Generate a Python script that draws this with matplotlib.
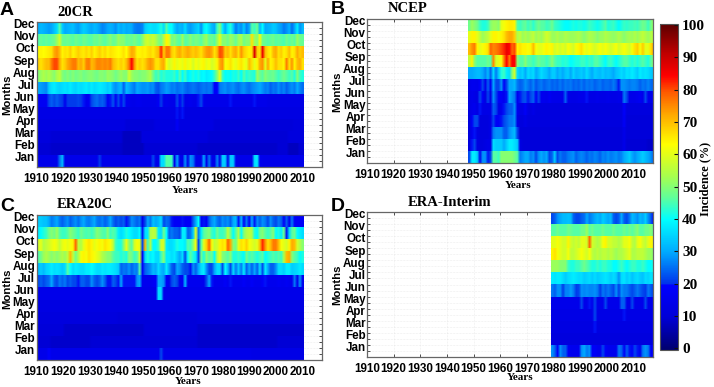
import numpy as np
import matplotlib
matplotlib.use("Agg")
import matplotlib.pyplot as plt
from matplotlib.colors import LinearSegmentedColormap, Normalize
from matplotlib.cm import ScalarMappable

MONTHS = ["Jan","Feb","Mar","Apr","May","Jun","Jul","Aug","Sep","Oct","Nov","Dec"]
XTICKS = list(range(1910, 2011, 10))

# ---------- 20CR, 1910-2009 ----------
A_Dec = [30,32,31,30,29,30,33,36,46,34, 30,31,32,33,30,29,32,34,33,31, 30,32,31,29,27,28,30,31,30,28,
         32,30,32,30,31,30,27,26,26,27, 34,36,37,36,36,38,42,36,46,40, 40,34,30,32,31,36,30,29,31,33,
         35,28,38,40,36,32,30,44,50,38, 30,38,42,34,26,30,28,34,27,30, 46,44,48,32,40,30,31,32,34,33,
         30,29,26,28,31,25,30,38,28,32]
A_Nov = [46,47,46,47,46,47,48,52,58,48, 47,48,47,46,48,47,46,48,47,46, 46,48,47,49,47,46,48,50,47,48,
         52,50,50,47,48,47,49,47,46,50, 56,58,55,57,54,50,48,55,64,60, 48,50,47,46,52,46,47,50,47,49,
         48,46,50,52,47,48,46,52,60,50, 50,48,52,50,47,52,54,48,50,50, 66,52,50,62,48,47,46,47,48,46,
         47,46,45,48,46,48,46,52,48,47]
A_Oct = [63,64,63,64,65,66,72,74,70,64, 66,65,68,64,66,68,66,65,67,65, 68,64,66,68,65,67,64,66,65,64,
         63,64,66,63,68,72,70,64,64,65, 64,66,67,65,68,70,82,68,76,76, 68,66,70,72,68,70,72,70,68,70,
         68,66,70,73,74,72,66,70,80,78, 68,70,66,70,72,66,74,68,66,64, 66,88,68,66,86,70,66,64,70,72,
         66,68,64,66,70,64,66,72,68,70]
A_Sep = [68,66,68,70,70,76,80,80,72,66, 68,72,74,76,76,70,72,68,75,76, 70,72,75,75,74,75,74,76,70,68,
         66,68,66,70,76,84,74,66,68,66, 68,72,74,72,66,66,70,72,62,58, 60,64,60,62,60,64,60,62,58,62,
         60,62,64,60,62,58,60,64,72,74, 62,64,66,62,60,64,66,62,60,70, 66,60,64,72,74,60,72,64,66,70,
         66,66,64,76,66,74,64,70,72,66]
A_Aug = [50,52,54,52,54,52,50,54,56,50, 48,50,48,50,48,49,50,48,49,50, 50,49,48,50,50,49,52,51,50,48,
         50,52,50,50,58,52,50,50,49,50, 50,52,54,48,44,46,42,44,42,42, 42,44,40,46,40,44,38,40,42,40,
         42,39,40,38,39,40,44,50,60,44, 40,41,40,42,41,44,40,46,42,44, 43,42,52,48,46,50,48,47,48,46,
         44,46,48,46,44,46,42,50,44,42]
A_Jul = [30,29,28,27,34,37,38,36,35,36, 37,36,38,36,35,37,36,37,38,36, 38,36,37,38,37,36,34,36,30,28,
         30,32,24,32,30,28,26,30,29,28, 28,29,27,28,24,23,26,27,29,28, 26,27,25,26,27,25,24,25,26,25,
         24,25,26,25,26,25,19,19,26,27, 28,26,27,28,26,25,27,28,26,25, 27,28,29,30,28,26,27,24,26,25,
         28,25,27,24,26,28,26,30,27,25]
A_Jun = [17,17,17,17,22,24,22,24,22,21, 16,21,21,21,21,22,21,20,16,17, 22,24,25,23,24,22,18,20,23,17,
         22,18,22,17,16,15,15,16,16,15, 15,15,15,15,15,17,21,15,16,15, 15,15,22,18,21,15,15,16,15,15,
         20,22,16,15,15,15,15,15,15,15, 15,15,20,15,15,15,15,15,15,15, 15,20,15,15,15,15,14,14,14,14,
         14,14,14,14,14,14,14,14,14,14]
A_May = [14]*52 + [20,14,20] + [13]*45
A_Apr = [13]*33 + [11]*6 + [11]*5 + [13]*8 + [18] + [13]*13 + [11]*30 + [12]*4
A_Mar = [12]*5 + [10]*27 + [8]*7 + [12]*15 + [12]*10 + [10]*30 + [12]*6
A_Feb = [10]*5 + [9]*27 + [8]*8 + [10]*20 + [9]*30 + [10,10,10,10,8,8,8,8,10,10]
A_Jan = [15,15,15,15,15,15,15,15,25,32, 15,15,15,15,15,15,15,15,15,15, 15,15,15,21,15,15,15,15,15,15,
         15,15,15,15,15,15,15,15,15,15, 15,15,15,22,15,15,36,36,46,46, 44,15,30,16,15,28,15,28,26,15,
         15,15,30,15,26,15,15,27,15,34, 34,16,34,34,16,15,15,15,15,15, 15,36,38,16,15,15,15,15,15,15,
         15,15,15,15,15,15,15,15,15,15]

# ---------- NCEP, 1948-2017 ----------
B_Dec = [48,52, 50,48,44,42,42,44,50,52,52,50, 60,62,64,65,65,64,46,44,46,47, 44,46,43,46,48,46,46,44,45,48,
         44,43,42,41,40,40,41,42,41,42, 42,41,42,44,43,42,41,42,44,46, 42,43,44,42,40,42,44,43,44,44,
         45,44,46,48,47,44,48,52]
B_Nov = [60,64, 64,60,56,52,54,56,60,64,64,62, 64,66,70,72,72,68,54,56,52,54, 52,54,56,52,54,52,55,58,56,52,
         52,54,52,52,54,53,52,52,53,54, 52,50,52,54,53,52,50,52,52,54, 53,52,51,52,54,52,50,52,53,52,
         54,52,54,56,54,52,54,56]
B_Oct = [70,74, 76,64,60,62,64,66,78,75,76,78, 80,82,86,84,78,80,64,66,64,64, 62,64,70,62,60,60,62,64,62,64,
         58,60,58,60,58,62,60,58,62,64, 66,62,60,62,60,58,60,62,60,62, 60,58,60,62,58,60,62,60,58,62,
         66,68,62,68,60,60,66,72]
B_Sep = [56,64, 50,46,46,46,46,48,46,75,58,60, 62,76,84,76,84,84,50,46,46,50, 46,46,44,46,48,46,46,44,46,50,
         46,44,44,42,43,42,40,41,42,42, 44,44,42,44,43,46,46,44,42,40, 43,44,42,40,42,44,46,46,44,42,
         44,42,44,46,44,42,46,50]
B_Aug = [30,30, 31,32,32,30,27,32,24,36,26,34, 42,44,38,36,50,58,36,33,35,30, 36,34,36,30,33,36,34,33,30,34,
         34,30,33,30,33,34,30,35,32,33, 34,32,36,33,30,34,33,32,34,32, 33,32,30,33,34,36,34,37,36,38,
         36,34,38,36,37,36,34,33]
B_Jul = [14,16, 16,15,18,22,15,24,17,30,22,22, 28,18,22,30,30,32,26,24,25,28, 26,24,27,23,25,26,24,25,26,24,
         25,24,26,24,26,25,26,24,25,24, 26,24,26,25,26,24,25,26,24,25, 25,24,26,24,20,28,28,27,26,27,
         27,26,24,26,25,27,25,24]
B_Jun = [13,15, 14,13,22,18,13,22,14,28,22,18, 18,16,20,30,28,26,16,20,22,23, 20,22,24,18,22,16,16,15,17,15,
         15,15,15,15,24,15,14,14,14,15, 15,15,20,14,14,14,15,14,14,14, 15,14,14,14,15,14,26,22,15,15,
         15,16,17,15,22,16,15,16]
B_May = [13,15, 16,13,20,14,14,14,14,24,22,14, 16,20,22,24,24,28,16,14,14,18, 13,12,14] + [12]*33 + [19] + [12]*11
B_Apr = [12,18, 22,22,12,12,12,12,14,22,18,18, 20,22,24,26,26,28,14,12,12,14] + [12]*36 + [18] + [11]*11
B_Mar = [12,16, 20,13,12,12,12,12,14,26,28,28, 28,24,24,28,30,32,22,11,11,11] + [11]*36 + [15] + [11]*11
B_Feb = [12,20, 22,13,12,12,13,14,14,36,34,34, 34,30,34,38,38,36,34,13,11,11] + [11]*36 + [15] + [10]*8 + [9,9,8]
B_Jan = [22,38, 38,34,16,28,28,20,22,46,46,44, 50,50,50,50,50,48,46,26,28,30,
         30,26,28,22,28,30,28,30,22,24, 34,22,26,24,24,26,27,28,24,26, 27,26,24,26,25,27,26,24,27,26,
         28,26,27,28,26,27,30,32,34,30, 28,30,32,34,32,30,28,24]

# ---------- ERA20C, 1910-2009 ----------
C_Dec = [34,34,33,33,30,26,28,30,26,24, 26,28,24,26,28,25,28,30,27,26, 28,30,26,25,27,24,26,30,25,22,
         24,22,24,20,22,28,26,24,26,16, 22,30,26,33,30,32,36,22,25,24, 20,18,18,18,20,18,18,18,24,30,
         40,18,20,18,24,28,30,26,24,28, 26,28,24,30,32,20,32,18,26,18, 30,20,28,24,28,26,22,28,24,22,
         26,24,18,24,16,26,18,18,18,18]
C_Nov = [38,40,42,44,48,50,48,52,46,44, 44,46,50,48,46,44,48,46,45,46, 44,46,50,48,46,45,50,44,46,44,
         38,36,38,42,40,38,36,36,40,20, 36,38,54,56,54,38,36,48,40,24, 26,24,24,22,38,38,24,26,34,60,
         26,38,46,48,50,44,42,48,44,44, 46,56,48,40,46,54,40,50,54,56, 54,42,40,48,50,46,44,46,50,40,
         42,38,48,20,36,46,48,40,38,36]
C_Oct = [58,60,54,56,58,60,62,60,56,60, 62,60,62,64,78,56,54,60,64,66, 64,60,62,64,62,66,64,62,56,44,
         42,42,50,60,50,46,58,62,60,22, 70,44,54,40,40,44,58,58,38,36, 36,38,42,40,40,38,46,44,50,62,
         22,46,60,68,78,62,56,58,64,66, 64,78,72,50,48,60,66,64,68,62, 60,58,60,70,82,74,66,70,76,76,
         70,62,60,58,64,72,70,58,54,50]
C_Sep = [46,48,52,54,52,50,52,50,52,54, 52,56,70,56,48,54,62,64,62,66, 64,62,60,58,54,52,50,50,46,44,
         44,42,44,42,50,48,44,46,58,18, 36,42,38,40,36,36,44,50,38,38, 36,38,34,30,36,22,40,46,42,38,
         22,48,42,50,46,48,40,54,60,50, 48,46,50,42,42,44,42,40,48,44, 46,44,42,44,46,40,42,44,46,44,
         46,44,54,70,72,50,46,44,40,42]
C_Aug = [32,34,32,35,36,38,36,37,36,34, 36,46,40,36,38,37,36,36,38,38, 40,38,36,36,38,37,38,38,37,36,
         34,24,26,25,28,24,27,26,46,19, 24,26,28,32,30,36,32,30,38,30, 24,22,30,28,24,22,22,20,28,24,
         30,36,38,28,22,22,30,36,36,22, 40,32,22,36,26,34,26,38,24,30, 24,30,24,36,22,38,30,24,24,28,
         36,36,34,38,38,34,35,36,38,36]
C_Jul = [22,24,22,24,25,30,24,22,26,24, 26,22,24,22,22,20,24,24,22,22, 28,24,22,24,28,24,20,20,24,22,
         20,30,20,20,20,20,20,28,30,16, 16,16,16,17,18,30,30,28,18,16, 22,24,22,16,17,32,16,16,16,16,
         16,16,16,22,30,20,16,16,16,16, 18,16,20,16,16,16,16,18,16,16, 18,16,16,16,18,20,16,16,16,16,
         17,16,16,17,16,16,26,16,28,16]
C_Jun = [15]*45 + [36,36] + [15]*53
C_May = [13]*100
C_Apr = [12]*30 + [11]*30 + [12]*40
C_Mar = [11]*10 + [9]*30 + [11]*20 + [9]*40
C_Feb = [10]*5 + [9]*15 + [10]*40 + [9]*30 + [10]*10
C_Jan = [15]*4 + [19] + [15]*41 + [22] + [15]*33 + [14]*20

# ---------- ERA-Interim, 1979-2017 ----------
D_Dec = [22,24,28,30,32,32,33,32,24,22, 22,24,25,30,26,28,30,32,30,34, 32,30,32,24,22,24,30,24,22,26, 32,30,28,32,30,34,28,24,18]
D_Nov = [46,46,48,46,46,46,48,47,46,46, 46,48,48,52,46,48,46,46,46,48, 46,46,46,48,46,46,46,48,46,48, 46,48,50,46,46,48,48,50,47]
D_Oct = [60,60,62,60,58,58,64,58,56,58, 56,60,60,58,78,58,56,54,56,62, 64,58,58,56,56,54,56,60,60,62, 56,54,60,62,58,56,60,64,62]
D_Sep = [64,66,62,60,58,58,62,56,56,58, 60,62,60,58,62,56,54,56,54,56, 56,54,56,54,52,54,54,56,58,60, 54,54,56,56,56,54,52,52,50]
D_Aug = [52,52,52,50,50,50,44,42,42,44, 44,46,48,46,44,42,42,44,42,44, 44,42,42,40,40,42,44,42,40,42, 44,44,42,42,44,42,40,40,42]
D_Jul = [38,37,38,38,36,34,36,37,38,37, 36,36,34,35,36,34,36,34,35,36, 37,36,34,36,34,28,36,37,34,36, 33,35,36,34,33,36,35,37,36]
D_Jun = [26,24,28,28,21,27,27,29,26,21, 22,28,27,28,27,27,28,26,21,26, 24,26,24,22,28,21,28,26,26,24, 22,24,26,24,22,21,26,24,21]
D_May = [15]*11 + [22] + [15]*2 + [20] + [15] + [22] + [15]*3 + [22] + [15]*5 + [24,24] + [15]*2 + [22] + [15]*4 + [22] + [15]*3
D_Apr = [14]*16 + [22] + [14]*10 + [20] + [14]*11
D_Mar = [13]*16 + [20] + [13]*22
D_Feb = [12]*39
D_Jan = [28,24,18,28,24,24,18,16,16,16, 16,28,30,26,28,18,18,16,16,22, 18,16,16,16,16,26,24,18,24,20, 18,22,20,16,26,28,26,18,18]

PANELS = [
    ("A", "20CR", 1910, [A_Jan,A_Feb,A_Mar,A_Apr,A_May,A_Jun,A_Jul,A_Aug,A_Sep,A_Oct,A_Nov,A_Dec]),
    ("B", "NCEP", 1948, [B_Jan,B_Feb,B_Mar,B_Apr,B_May,B_Jun,B_Jul,B_Aug,B_Sep,B_Oct,B_Nov,B_Dec]),
    ("C", "ERA20C", 1910, [C_Jan,C_Feb,C_Mar,C_Apr,C_May,C_Jun,C_Jul,C_Aug,C_Sep,C_Oct,C_Nov,C_Dec]),
    ("D", "ERA-Interim", 1979, [D_Jan,D_Feb,D_Mar,D_Apr,D_May,D_Jun,D_Jul,D_Aug,D_Sep,D_Oct,D_Nov,D_Dec]),
]

W, H = 714, 387
GEOM = {
    "A": dict(box=(36.5, 22, 322, 167), letter=(0, 15), title=(57, 12), months=(7, 95), years=(185, 190.5)),
    "B": dict(box=(367, 19, 652.7, 163), letter=(331, 14), title=(388, 9), months=(337, 92), years=(518, 186)),
    "C": dict(box=(36.5, 215, 322, 360), letter=(0, 211), title=(57, 205), months=(7, 289), years=(188, 382)),
    "D": dict(box=(367, 212, 652.7, 357), letter=(331, 211), title=(408, 203), months=(337, 285), years=(520, 378)),
}

anchors = [(0,(0,0,110)),(10,(0,0,215)),(19.8,(0,0,255)),(20.2,(0,50,235)),(30,(0,170,255)),
           (40,(0,255,255)),(47,(100,255,150)),(53,(165,255,80)),(63,(255,255,0)),(72,(255,170,0)),
           (79,(255,90,0)),(84,(255,0,0)),(91,(190,0,0)),(100,(90,0,0))]
cmap = LinearSegmentedColormap.from_list("inc", [(v/100, tuple(c/255 for c in rgb)) for v, rgb in anchors], N=512)
norm = Normalize(0, 100)

SANS = "Liberation Sans"
SERIF = "Liberation Serif"
fig = plt.figure(figsize=(W/100, H/100), dpi=100)

def fx(x): return x / W
def fy(y): return 1 - y / H

for letter, title, start, rows in PANELS:
    g = GEOM[letter]
    l, t, r, b = g["box"]
    ax = fig.add_axes([fx(l), fy(b), (r-l)/W, (b-t)/H])
    data = np.array(rows, dtype=float)
    # each month is its own strip, softened along the years only
    for i in range(12):
        ax.imshow(data[i:i+1], extent=(start, start + data.shape[1], i, i + 1), origin="lower",
                  aspect="auto", cmap=cmap, norm=norm, interpolation="bilinear",
                  interpolation_stage="rgba", zorder=1)
    ax.set_xlim(1910, 2017.3)
    ax.set_ylim(0, 12)
    ax.set_xticks(XTICKS)
    ax.set_xticklabels([str(v) for v in XTICKS], fontfamily=SANS, fontweight="bold", fontsize=8.4)
    ax.set_yticks(np.arange(12) + 0.85)
    ax.set_yticklabels(MONTHS, fontfamily=SANS, fontweight="bold", fontsize=8.4)
    ax.set_yticks(np.arange(0, 12.01, 0.5), minor=True)
    ax.tick_params(axis="x", which="major", direction="in", top=True, bottom=True, length=2,
                   width=0.6, color="#333333", pad=4)
    ax.tick_params(axis="y", which="major", length=0, pad=1)
    ax.tick_params(axis="y", which="minor", direction="in", left=True, right=True, length=2,
                   width=0.6, color="#333333")
    ax.set_axisbelow(True)
    ax.grid(True, which="minor", axis="y", color="#dddddd", lw=0.4, ls=":")
    ax.grid(True, which="major", axis="x", color="#dddddd", lw=0.4, ls=":")
    for s in ax.spines.values():
        s.set_color("#666666")
        s.set_linewidth(0.9)
    fig.text(fx(g["letter"][0]), fy(g["letter"][1]), letter, fontfamily=SANS, fontweight="bold",
             fontsize=14, ha="left", va="baseline")
    fig.text(fx(g["title"][0]), fy(g["title"][1]), title, fontfamily=SERIF, fontweight="bold",
             fontsize=10.5, ha="left", va="center")
    fig.text(fx(g["months"][0]), fy(g["months"][1]), "Months", fontfamily=SANS, fontweight="bold",
             fontsize=8.2, rotation=90, ha="center", va="center")
    fig.text(fx(g["years"][0]), fy(g["years"][1]), "Years", fontfamily=SERIF, fontweight="bold",
             fontsize=8, ha="center", va="center")

cax = fig.add_axes([fx(660), fy(350), 18/W, (350-23.5)/H])
cb = fig.colorbar(ScalarMappable(norm=Normalize(-0.5, 100.5), cmap=cmap), cax=cax)
CB_TICKS = list(range(0, 101, 10))
cb.set_ticks(CB_TICKS)
cb.set_ticklabels([str(v) for v in CB_TICKS], fontfamily=SERIF, fontweight="bold", fontsize=11)
cax.tick_params(direction="in", length=3, width=0.8, color="#111111", pad=3, left=False, right=True)
cb.outline.set_edgecolor("#555555")
cb.outline.set_linewidth(0.8)
fig.text(fx(705), fy(179), "Incidence (%)", fontfamily=SERIF, fontweight="bold", fontsize=8.8,
         rotation=90, ha="center", va="center")

fig.savefig("out.png", dpi=100)
